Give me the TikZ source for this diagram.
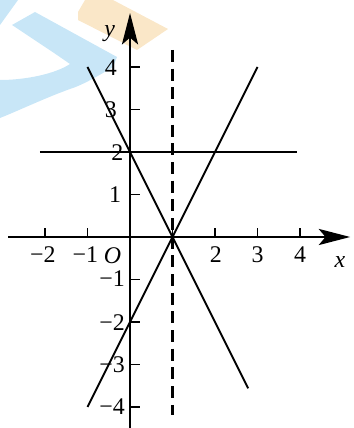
\documentclass[tikz,border=0pt]{standalone}
\usepackage{fontspec}
\setmainfont{Liberation Serif}
\usetikzlibrary{arrows.meta}
\definecolor{wmblue}{RGB}{200,230,247}
\definecolor{wmorange}{RGB}{250,231,200}
\begin{document}
\begin{tikzpicture}[
  axis/.style={line width=1.4pt, -{Stealth[length=0.74cm,width=0.38cm,inset=0.16cm]}},
  graphline/.style={line width=1.3pt},
  dashline/.style={line width=1.45pt, dash pattern=on 8pt off 4.5pt},
  tickmark/.style={line width=1.3pt},
  lab/.style={font=\fontsize{16}{18}\selectfont, inner sep=0pt},
]
\useasboundingbox (-3.059,-4.494) rectangle (5.247,5.576);
% watermark (pixel coordinates)
\begin{scope}[shift={(-3.059,5.576)}, x=0.023529cm, y=-0.023529cm]
  \fill[wmblue] (0,0) -- (18,0) -- (0,25) -- cycle;
  \fill[wmblue] (12,25) -- (35,12) -- (117,57) -- (113,67)
    .. controls (95,78) and (80,86) .. (70,89)
    .. controls (45,98) and (20,110) .. (0,118) -- (0,80)
    .. controls (25,80) and (55,74) .. (70,64)
    .. controls (50,50) and (30,37) .. cycle;
  \fill[wmorange] (78,12) -- (85,0) -- (113,0) -- (168,29) -- (137,50) -- (78,20) -- cycle;
\end{scope}
% axes
\coordinate (xs) at (-2.87,0); \coordinate (xe) at (5.18,0);
\coordinate (ys) at (0,-4.5);  \coordinate (ye) at (0,5.27);
\draw[axis] (xs) -- (xe);
\draw[axis] (ys) -- (ye);
\foreach \x in {-2,-1,1,2,3,4} \draw[tickmark] (\x,0) -- (\x,0.2);
\foreach \y in {-4,-3,-2,-1,1,2,3,4} \draw[tickmark] (0,\y) -- (0.23,\y);
% lines
\coordinate (h1) at (-2.12,2); \coordinate (h2) at (3.93,2);
\coordinate (a1) at (-1,4);    \coordinate (a2) at (2.78,-3.56);
\coordinate (b1) at (3,4);     \coordinate (b2) at (-1,-4);
\coordinate (d1) at (1,4.4);   \coordinate (d2) at (1,-4.19);
\draw[graphline] (h1) -- (h2);
\draw[graphline] (a1) -- (a2);
\draw[graphline] (b1) -- (b2);
\draw[dashline] (d1) -- (d2);
\fill (1,0) circle (0.05);
% x labels
\node[lab] (xm2) at (-2.05,-0.42) {−2};
\node[lab] (xm1) at (-1.05,-0.42) {−1};
\node[lab] (o)   at (-0.41,-0.43) {\textit{O}};
\node[lab] (x2)  at (2.02,-0.42) {2};
\node[lab] (x3)  at (3.0,-0.42) {3};
\node[lab] (x4)  at (4.0,-0.42) {4};
\node[lab] (xl)  at (4.94,-0.6) {\textit{x}};
% y labels
\node[lab] (y4)  at (-0.45,3.98) {4};
\node[lab] (y3)  at (-0.45,3.0) {3};
\node[lab] (y2)  at (-0.3,1.98) {2};
\node[lab] (y1)  at (-0.35,0.99) {1};
\node[lab] (ym1) at (-0.42,-0.97) {−1};
\node[lab] (ym2) at (-0.42,-2.02) {−2};
\node[lab] (ym3) at (-0.42,-3.0) {−3};
\node[lab] (ym4) at (-0.42,-4.0) {−4};
\node[lab] (yl)  at (-0.48,4.78) {\textit{y}};
\end{tikzpicture}
\end{document}
